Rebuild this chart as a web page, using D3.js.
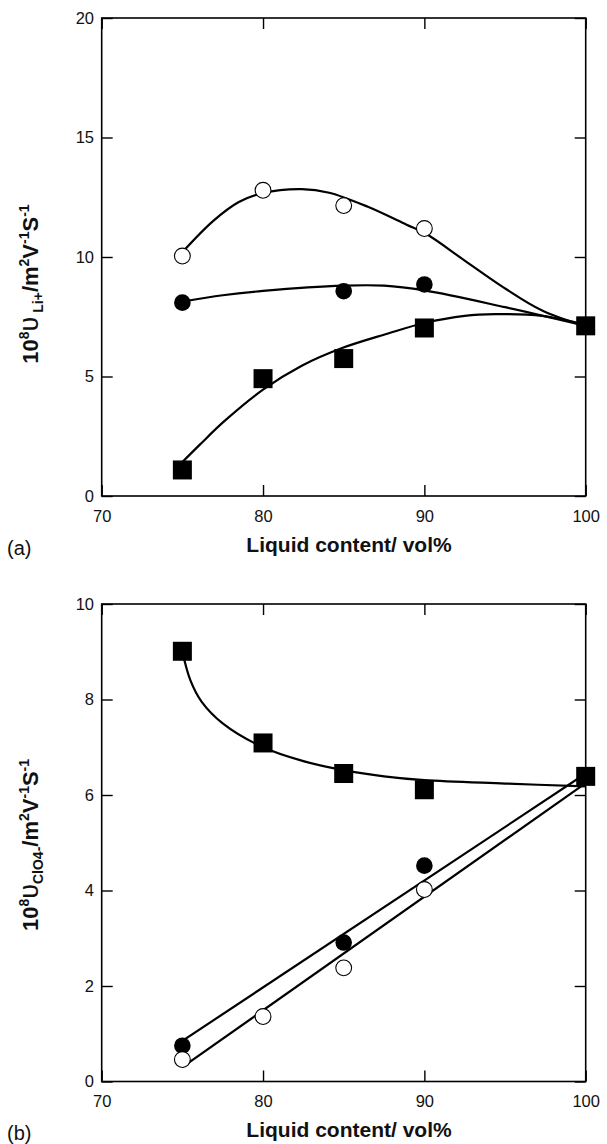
<!DOCTYPE html>
<html><head><meta charset="utf-8">
<script src="https://cdn.jsdelivr.net/npm/d3@7"></script>
<style>
body{margin:0;background:#fff}
svg{display:block}
text{font-family:"Liberation Sans",Arial,Helvetica,sans-serif}
</style>
</head><body>
<script>
// ---------- data ----------
const xTicks = [70, 80, 90, 100];
const topYTicks = [0, 5, 10, 15, 20];
const botYTicks = [0, 2, 4, 6, 8, 10];

// panel (a): Li+ mobility
const aOpenX = [75, 80, 85, 90];
const aOpenY = [10.04, 12.79, 12.15, 11.19];
const aFilledX = [75, 85, 90];
const aFilledY = [8.09, 8.57, 8.85];
const aSquareX = [75, 80, 85, 90, 100];
const aSquareY = [1.09, 4.91, 5.75, 7.03, 7.12];
// fitted curves
const aOpenFit = [[75,10.2],[76.9,11.5],[78.5,12.3],[80,12.68],[82.4,12.84],[84.1,12.69],[86.5,12.1],[88.9,11.35],[90.1,10.97],[92.5,9.85],[94.9,8.73],[97.3,7.76],[100,7.1]];
const aFilledFit = [[75,8.13],[77.5,8.4],[80,8.58],[85,8.8],[87.5,8.8],[90,8.6],[95,7.9],[100,7.12]];
const aSquareFit = [[75,1.42],[76.1,2.16],[77.6,3.13],[80,4.45],[82.4,5.45],[84.9,6.19],[87.7,6.79],[90,7.24],[92.5,7.54],[94.4,7.61],[97.3,7.54],[100,7.16]];

// panel (b): ClO4- mobility
const bSquareX = [75, 80, 85, 90, 100];
const bSquareY = [9.01, 7.09, 6.45, 6.11, 6.39];
const bFilledX = [75, 85, 90];
const bFilledY = [0.75, 2.91, 4.52];
const bOpenX = [75, 80, 85, 90];
const bOpenY = [0.46, 1.36, 2.38, 4.02];
const bSquareFit = [[75,9.0],[75.5,8.4],[76.2,7.95],[77.5,7.5],[80,7.0],[82.5,6.71],[85,6.52],[87.5,6.39],[90,6.31],[95,6.24],[100,6.18]];
const bFilledFit = [[75,0.85],[100,6.45]];
const bOpenFit = [[75,0.3],[100,6.25]];

// ---------- drawing ----------
const W = 607, H = 1144;
const svg = d3.select("body").append("svg").attr("width", W).attr("height", H);

const x = d3.scaleLinear().domain([70, 100]).range([101.7, 585.7]);

function panel(opt) {
  const y = d3.scaleLinear().domain(opt.yDomain).range(opt.yRange);
  const g = svg.append("g");
  const y0 = opt.yRange[0], y1 = opt.yRange[1];

  // axes with inward ticks
  const ax = [
    g.append("g").attr("transform", `translate(0,${y0})`)
      .call(d3.axisBottom(x).tickValues(xTicks).tickSize(-11).tickPadding(14).tickFormat(d3.format("d"))),
    g.append("g").attr("transform", `translate(0,${y1})`)
      .call(d3.axisTop(x).tickValues(xTicks).tickSize(-11).tickFormat("")),
    g.append("g").attr("transform", `translate(${x.range()[0]},0)`)
      .call(d3.axisLeft(y).tickValues(opt.yTicks).tickSize(-11).tickPadding(7.7).tickFormat(d3.format("d"))),
    g.append("g").attr("transform", `translate(${x.range()[1]},0)`)
      .call(d3.axisRight(y).tickValues(opt.yTicks).tickSize(-11).tickFormat(""))
  ];
  ax.forEach(a => {
    a.select(".domain").remove();
    a.selectAll("line").attr("stroke", "#000").attr("stroke-width", 1.4);
    a.selectAll("text").attr("font-size", 16.5).attr("fill", "#111")
      .style("font-family", '"Liberation Sans",Arial,sans-serif');
  });

  g.append("rect")
    .attr("x", x(70)).attr("y", y1)
    .attr("width", x(100) - x(70)).attr("height", y0 - y1)
    .attr("fill", "none").attr("stroke", "#000").attr("stroke-width", 1.6);

  const line = d3.line().x(d => x(d[0])).y(d => y(d[1])).curve(d3.curveCatmullRom.alpha(0.5));
  opt.fits.forEach(f => {
    g.append("path").attr("d", line(f)).attr("fill", "none")
      .attr("stroke", "#000").attr("stroke-width", 2.2);
  });

  // markers
  opt.squares.x.forEach((xv, i) => {
    g.append("rect").attr("x", x(xv) - 9.5).attr("y", y(opt.squares.y[i]) - 9.5)
      .attr("width", 19).attr("height", 19).attr("fill", "#000");
  });
  opt.filled.x.forEach((xv, i) => {
    g.append("circle").attr("cx", x(xv)).attr("cy", y(opt.filled.y[i])).attr("r", 8.3).attr("fill", "#000");
  });
  opt.open.x.forEach((xv, i) => {
    g.append("circle").attr("cx", x(xv)).attr("cy", y(opt.open.y[i])).attr("r", 7.9)
      .attr("fill", "#fff").attr("stroke", "#000").attr("stroke-width", 1.1);
  });

  // x label
  g.append("text").attr("x", 349).attr("y", y0 + 55.5).attr("text-anchor", "middle")
    .attr("font-size", 21).attr("font-weight", "bold").attr("fill", "#111")
    .text("Liquid content/ vol%");
  // panel letter
  g.append("text").attr("x", 7).attr("y", y0 + 58.5).attr("font-size", 20).attr("fill", "#111")
    .text(opt.letter);

  // y label
  const t = g.append("text")
    .attr("transform", `translate(38,${opt.yLabelCenter}) rotate(-90)`)
    .attr("text-anchor", "middle").attr("font-weight", "bold").attr("font-size", 22).attr("fill", "#111");
  t.append("tspan").text("10");
  t.append("tspan").attr("font-size", 14).attr("dy", -9).text("8");
  t.append("tspan").attr("font-weight", "normal").attr("font-size", 27).attr("dy", 9).text("υ");
  t.append("tspan").attr("font-size", 14).attr("dy", 5).text(opt.sub);
  t.append("tspan").attr("dy", -5).text("/m");
  t.append("tspan").attr("font-size", 14).attr("dy", -9).text("2");
  t.append("tspan").attr("dy", 9).text("V");
  t.append("tspan").attr("font-size", 14).attr("dy", -9).text("-1");
  t.append("tspan").attr("dy", 9).text("S");
  t.append("tspan").attr("font-size", 14).attr("dy", -9).text("-1");
}

panel({
  yDomain: [0, 20], yRange: [496, 18], yTicks: topYTicks,
  fits: [aOpenFit, aFilledFit, aSquareFit],
  squares: {x: aSquareX, y: aSquareY},
  filled: {x: aFilledX, y: aFilledY},
  open: {x: aOpenX, y: aOpenY},
  letter: "(a)", sub: "\u00A0Li+", yLabelCenter: 284
});

panel({
  yDomain: [0, 10], yRange: [1081.5, 604], yTicks: botYTicks,
  fits: [bSquareFit, bFilledFit, bOpenFit],
  squares: {x: bSquareX, y: bSquareY},
  filled: {x: bFilledX, y: bFilledY},
  open: {x: bOpenX, y: bOpenY},
  letter: "(b)", sub: "ClO4-", yLabelCenter: 845
});
</script>
</body></html>
